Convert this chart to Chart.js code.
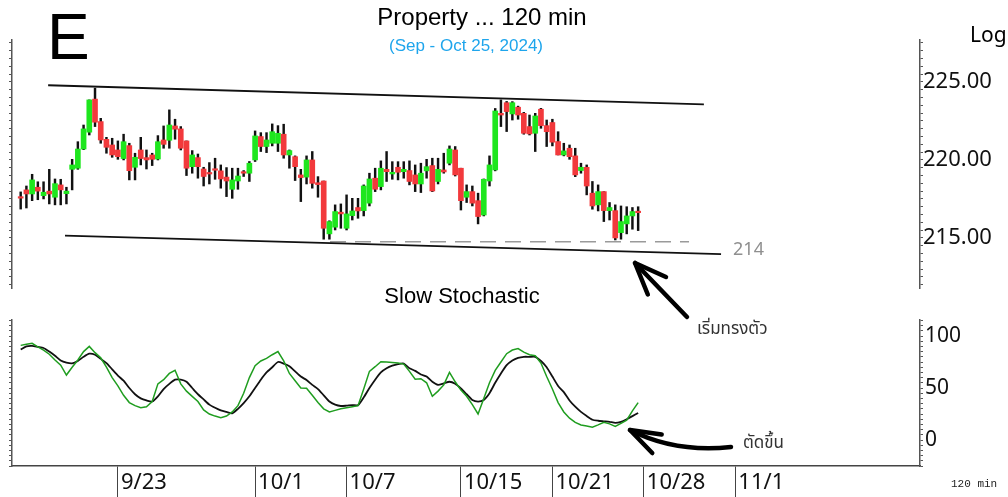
<!DOCTYPE html>
<html>
<head>
<meta charset="utf-8">
<script src="https://cdn.jsdelivr.net/npm/chart.js@4.4.1/dist/chart.umd.min.js"></script>
<style>
  html, body { margin: 0; padding: 0; background: #fff; }
  #wrap { position: relative; width: 1008px; height: 497px; overflow: hidden; }
  #top { position: absolute; left: 0; top: 0; }
  #bot { position: absolute; left: 0; top: 300px; }
</style>
</head>
<body>
<div id="wrap">
  <canvas id="top" width="1008" height="340"></canvas>
  <canvas id="bot" width="1008" height="197"></canvas>
</div>
<script>
// 120 min bars, Sep 18 - Oct 25 2024 (4 bars a day)
const openP = [217.60, 218.08, 217.82, 218.25, 217.71, 218.00, 217.61, 218.40, 217.84, 219.40,
  219.47, 220.70, 221.78, 223.90, 222.46, 221.32, 220.96, 220.64, 220.09, 220.92,
  219.53, 220.64, 220.15, 220.32, 220.06, 221.28, 221.26, 222.18, 221.99, 221.22,
  219.57, 220.15, 219.42, 219.17, 219.40, 219.30, 218.90, 218.12, 218.65, 219.23,
  219.15, 220.00, 221.50, 220.86, 221.07, 221.07, 221.65, 220.32, 220.21, 219.04,
  218.90, 220.00, 218.54, 218.65, 215.26, 215.69, 216.65, 215.62, 216.43, 216.95,
  216.75, 217.23, 218.83, 218.29, 219.40, 219.10, 219.53, 219.25, 219.32, 219.04,
  218.46, 219.30, 219.64, 218.62, 219.36, 219.79, 220.64, 219.47, 217.61, 217.97,
  217.39, 216.47, 218.65, 219.36, 222.99, 223.67, 222.95, 223.38, 222.99, 222.14,
  221.71, 223.25, 222.20, 222.40, 221.18, 220.32, 220.75, 220.26, 219.32, 219.53,
  217.87, 217.12, 217.97, 216.75, 216.75, 215.34, 215.90, 216.41, 216.69];
const highP = [217.95, 218.33, 219.08, 218.60, 218.60, 219.40, 218.78, 218.76, 218.25, 220.04,
  221.17, 222.24, 223.85, 224.60, 222.67, 221.45, 221.39, 221.22, 221.65, 221.07,
  220.43, 221.45, 220.64, 220.43, 221.56, 222.18, 223.21, 222.61, 222.14, 221.22,
  220.60, 220.38, 219.53, 219.83, 220.11, 219.68, 219.51, 219.47, 219.47, 219.32,
  219.90, 221.86, 221.75, 221.75, 222.31, 222.20, 222.29, 220.64, 220.26, 219.40,
  220.26, 220.54, 218.93, 218.65, 216.10, 217.12, 217.18, 217.76, 217.54, 217.54,
  218.40, 219.15, 219.47, 219.94, 220.54, 219.89, 219.89, 219.89, 219.94, 219.68,
  219.79, 220.04, 220.11, 220.11, 220.43, 220.90, 220.86, 219.47, 218.40, 218.33,
  217.87, 218.78, 220.26, 223.30, 223.85, 223.75, 223.74, 223.45, 223.05, 222.88,
  222.99, 223.31, 222.56, 222.61, 221.81, 221.07, 220.96, 220.75, 219.79, 219.68,
  218.62, 218.40, 217.97, 217.27, 217.12, 217.05, 217.00, 216.95, 217.00];
const lowP = [216.85, 216.92, 217.39, 217.45, 217.50, 217.18, 217.12, 217.12, 217.18, 218.08,
  219.40, 220.66, 221.60, 222.14, 221.07, 220.43, 220.17, 220.04, 220.00, 218.72,
  218.72, 219.68, 219.42, 219.64, 220.00, 220.75, 220.75, 221.33, 220.64, 219.00,
  219.15, 218.83, 218.33, 218.46, 218.76, 218.19, 217.65, 217.54, 218.12, 218.94,
  218.62, 219.90, 220.54, 220.47, 220.90, 220.54, 220.11, 219.47, 218.68, 217.33,
  218.46, 218.19, 217.61, 214.92, 214.92, 215.51, 215.62, 215.51, 216.15, 216.26,
  216.41, 217.05, 217.97, 218.08, 218.62, 218.76, 218.72, 218.83, 218.40, 217.97,
  217.91, 218.83, 217.97, 218.46, 219.15, 219.68, 218.97, 216.79, 217.27, 217.05,
  215.90, 216.41, 218.33, 219.30, 222.14, 221.82, 222.56, 222.61, 221.65, 221.60,
  220.54, 222.03, 220.86, 220.90, 220.32, 220.26, 220.04, 218.93, 219.15, 217.76,
  216.84, 216.73, 216.05, 216.15, 214.87, 214.92, 215.26, 215.56, 215.47];
const closeP = [217.55, 217.82, 218.72, 218.00, 217.93, 217.82, 218.48, 218.08, 218.00, 219.68,
  220.70, 221.99, 223.85, 222.42, 221.28, 220.81, 220.32, 220.21, 221.17, 219.31,
  220.17, 220.09, 220.00, 220.04, 221.17, 221.00, 222.24, 221.97, 220.75, 219.47,
  220.32, 219.57, 218.94, 219.10, 219.34, 218.78, 218.65, 218.72, 218.97, 219.15,
  219.79, 221.54, 220.86, 221.28, 221.81, 221.71, 220.32, 220.60, 219.57, 218.87,
  220.00, 218.50, 218.42, 215.62, 216.05, 216.69, 216.54, 216.54, 216.73, 216.73,
  218.33, 218.78, 218.12, 219.47, 219.25, 219.21, 219.21, 219.40, 218.62, 218.46,
  219.15, 219.57, 218.01, 219.40, 219.23, 220.70, 219.04, 217.39, 217.97, 217.23,
  216.37, 218.76, 219.68, 223.14, 222.88, 223.10, 223.67, 222.88, 221.71, 221.67,
  222.82, 222.20, 221.81, 221.14, 220.32, 220.58, 220.21, 219.04, 219.53, 218.33,
  217.05, 217.97, 216.75, 216.95, 215.00, 216.05, 216.41, 216.69, 216.62];

// slow stochastic %K (green) and %D (black)
const stochK = [91, 92, 93, 89.5, 86.5, 82.5, 77, 72, 62.5, 70,
  77, 85, 90, 84, 79, 70, 60, 52, 43, 36,
  33, 31, 32, 37, 54, 58, 64, 67, 54, 47,
  42, 37, 29, 25, 23, 21.5, 23, 27, 33, 45,
  60, 71.5, 76, 78.5, 82, 85, 76, 64, 57, 50,
  49.7, 43, 36, 30, 27, 28.5, 30, 31, 32, 33,
  49, 66, 70.5, 75.3, 75, 74.5, 74, 73, 66, 58.5,
  59, 55, 42, 47, 53, 65, 56, 48, 42, 34,
  25, 40, 55, 67, 75, 83, 86.5, 88, 84.5, 82,
  81, 74, 61, 49, 36, 27, 21, 17, 14.5, 13.5,
  12.3, 14.5, 17, 15.5, 13, 16, 19, 28, 36];
const stochD = [87, 90, 90.5, 89.5, 88.5, 85, 81, 76.5, 74.4, 73.7,
  76, 80, 83, 82, 78, 74, 68, 62, 57, 50,
  44, 40, 38, 37, 42, 49, 54, 58, 58, 56,
  50, 44, 39, 34, 31, 28.5, 27, 25.7, 30, 35.5,
  42, 50, 58, 65, 70, 75, 73.5, 71, 66, 61,
  57.7, 53, 49, 43, 37, 34, 32.7, 33, 33.5, 33.5,
  41, 50, 58, 65, 69, 71.5, 73, 73.5, 69, 66.5,
  63, 61, 56, 53, 54.5, 56, 54, 49.5, 44, 38.5,
  37, 38.5, 45, 55, 64, 72, 76.5, 79, 80, 80,
  80, 76, 70, 61, 52, 46, 38, 32, 27, 23,
  19.5, 18.5, 18, 17.5, 16.5, 17.5, 20, 23, 26];

// date separators: bar index where each day starts
const dateIdx = [17, 41, 57, 77, 93, 109, 125];
const dateLbl = ['9/23', '10/1', '10/7', '10/15', '10/21', '10/28', '11/1'];

// drawn trend lines [bar index, price]
const upperTrend = [[4.8, 224.79], [119.5, 223.56]];
const lowerTrend = [[7.75, 215.15], [122.5, 213.96]];
const supportLine = [[54.1, 214.76], [116.9, 214.76]];

const X_MIN = -1.52, X_MAX = 157.3;
const GREEN = '#1ee61e', RED = '#f2393c';
const AX = '#555';
const barIdx = openP.map((_, i) => i);
const pts = arr => arr.map(([x, y]) => ({ x, y }));

Chart.defaults.font.family = '"Noto Sans", "Open Sans", sans-serif';
Chart.defaults.color = '#111';

function arrowHead(ctx, tx, ty, fx, fy, len, spread) {
  const a = Math.atan2(fy - ty, fx - tx);
  ctx.beginPath();
  ctx.moveTo(tx + len * Math.cos(a + spread), ty + len * Math.sin(a + spread));
  ctx.lineTo(tx, ty);
  ctx.lineTo(tx + len * Math.cos(a - spread), ty + len * Math.sin(a - spread));
  ctx.stroke();
}

const topDecor = {
  id: 'topDecor',
  afterDraw(chart) {
    const ctx = chart.ctx;
    const xs = chart.scales.x, ys = chart.scales.y;
    ctx.save();
    ctx.fillStyle = '#000';
    ctx.textBaseline = 'alphabetic';
    ctx.font = '64px "Liberation Sans", Arial, sans-serif';
    ctx.fillText('E', 47, 59);

    ctx.textAlign = 'center';
    ctx.textBaseline = 'middle';
    ctx.font = '24px "Liberation Sans", Arial, sans-serif';
    ctx.fillText('Property ... 120 min', 482, 18);
    ctx.fillStyle = '#1ea5ec';
    ctx.font = '17px "Liberation Sans", Arial, sans-serif';
    ctx.fillText('(Sep - Oct 25, 2024)', 466, 46);
    ctx.fillStyle = '#000';
    ctx.font = '22px "Liberation Sans", Arial, sans-serif';
    ctx.fillText('Slow Stochastic', 462, 297);

    ctx.textAlign = 'left';
    ctx.font = '21px "Noto Sans", sans-serif';
    ctx.fillText('Log', 970, 36);

    ctx.fillStyle = '#8f8f8f';
    ctx.font = '18px "Noto Sans", sans-serif';
    ctx.fillText('214', xs.getPixelForValue(124.6), ys.getPixelForValue(214.25));

    // hand drawn arrow to the lower trend line
    ctx.strokeStyle = '#000';
    ctx.lineWidth = 4.5;
    ctx.lineCap = 'round';
    ctx.lineJoin = 'round';
    ctx.beginPath();
    ctx.moveTo(687, 317);
    ctx.lineTo(635, 263);
    ctx.stroke();
    arrowHead(ctx, 635, 263, 687, 317, 34, 0.38);

    ctx.fillStyle = '#333';
    ctx.font = '17px "Noto Sans Thai", "Loma", "Garuda", "Noto Sans", sans-serif';
    ctx.fillText('เริ่มทรงตัว', 697, 331);
    ctx.restore();
  }
};

const botDecor = {
  id: 'botDecor',
  afterDraw(chart) {
    const ctx = chart.ctx;
    const off = 300;
    ctx.save();
    ctx.strokeStyle = '#000';
    ctx.lineWidth = 4.5;
    ctx.lineCap = 'round';
    ctx.lineJoin = 'round';
    ctx.beginPath();
    ctx.moveTo(731, 447 - off);
    ctx.quadraticCurveTo(675, 453 - off, 630, 430 - off);
    ctx.stroke();
    arrowHead(ctx, 630, 430 - off, 675, 453 - off, 32, 0.33);

    ctx.fillStyle = '#333';
    ctx.textBaseline = 'middle';
    ctx.font = '17px "Noto Sans Thai", "Loma", "Garuda", "Noto Sans", sans-serif';
    ctx.fillText('ตัดขึ้น', 743, 445 - off);

    ctx.fillStyle = '#222';
    ctx.font = '11px "Liberation Mono", monospace';
    ctx.fillText('120 min', 951, 484 - off);
    ctx.restore();
  }
};

new Chart(document.getElementById('top'), {
  type: 'bar',
  data: {
    datasets: [
      {
        label: 'body',
        data: barIdx.map(i => ({ x: i, y: [openP[i], closeP[i]] })),
        backgroundColor: c => closeP[c.dataIndex] >= openP[c.dataIndex] ? GREEN : RED,
        barThickness: 5,
        minBarLength: 1.5,
        grouped: false,
        yAxisID: 'y'
      },
      {
        label: 'wick',
        data: barIdx.map(i => ({ x: i, y: [lowP[i], highP[i]] })),
        backgroundColor: '#111',
        barThickness: 1.8,
        grouped: false,
        yAxisID: 'y'
      },
      { type: 'line', label: 'upper', data: pts(upperTrend), borderColor: '#111', borderWidth: 1.8, pointRadius: 0, yAxisID: 'y' },
      { type: 'line', label: 'lower', data: pts(lowerTrend), borderColor: '#111', borderWidth: 1.8, pointRadius: 0, yAxisID: 'y' },
      { type: 'line', label: 'support', data: pts(supportLine), borderColor: '#9a9a9a', borderWidth: 1.6, borderDash: [16, 9], pointRadius: 0, yAxisID: 'y' }
    ]
  },
  options: {
    responsive: false,
    animation: false,
    layout: { padding: { top: 40, bottom: 52, left: 0, right: 0 } },
    plugins: { legend: { display: false }, tooltip: { enabled: false } },
    scales: {
      x: { type: 'linear', min: X_MIN, max: X_MAX, display: false, offset: false },
      y: {
        position: 'right', min: 211.79, max: 227.69,
        ticks: {
          stepSize: 0.5, autoSkip: false, includeBounds: false, padding: 0,
          font: { size: 22 }, color: '#111',
          callback: v => v % 5 === 0 ? v.toFixed(2) : ''
        },
        grid: { drawOnChartArea: false, tickLength: 3, color: AX },
        border: { color: AX, width: 1.5 },
        afterFit: s => { s.width = 88; }
      },
      yl: {
        position: 'left', min: 211.79, max: 227.69,
        ticks: { display: false, stepSize: 0.5, includeBounds: false },
        grid: { drawOnChartArea: false, tickLength: 3, color: AX },
        border: { color: AX, width: 1.5 },
        afterFit: s => { s.width = 12; }
      }
    }
  },
  plugins: [topDecor]
});

new Chart(document.getElementById('bot'), {
  type: 'line',
  data: {
    datasets: [
      { label: '%K', data: barIdx.map(i => ({ x: i, y: stochK[i] })), borderColor: '#1f9d1f', borderWidth: 1.5, pointRadius: 0, tension: 0 },
      { label: '%D', data: barIdx.map(i => ({ x: i, y: stochD[i] })), borderColor: '#111', borderWidth: 1.8, pointRadius: 0, tension: 0.2 }
    ]
  },
  options: {
    responsive: false,
    animation: false,
    layout: { padding: { top: 20, bottom: 0, left: 0, right: 0 } },
    plugins: { legend: { display: false }, tooltip: { enabled: false } },
    scales: {
      x: {
        type: 'linear', min: X_MIN, max: X_MAX, offset: false,
        afterBuildTicks: s => { s.ticks = dateIdx.map(v => ({ value: v })); },
        ticks: {
          autoSkip: false, maxRotation: 0, align: 'start', labelOffset: 3, padding: -27,
          font: { size: 22 }, color: '#111',
          callback: (v, i) => dateLbl[i]
        },
        grid: { drawOnChartArea: false, tickLength: 31, color: '#444' },
        border: { color: '#444', width: 1.5 },
        afterFit: s => { s.height = 31; }
      },
      y: {
        position: 'right', min: -25, max: 115.4,
        ticks: {
          stepSize: 5, autoSkip: false, includeBounds: false, padding: 2,
          font: { size: 21 }, color: '#111',
          callback: v => v % 50 === 0 ? String(v) : ''
        },
        grid: { drawOnChartArea: false, tickLength: 3, color: AX },
        border: { color: AX, width: 1.5 },
        afterFit: s => { s.width = 88; }
      },
      yl: {
        position: 'left', min: -25, max: 115.4,
        ticks: { display: false, stepSize: 5, includeBounds: false },
        grid: { drawOnChartArea: false, tickLength: 3, color: AX },
        border: { color: AX, width: 1.5 },
        afterFit: s => { s.width = 12; }
      }
    }
  },
  plugins: [botDecor]
});
</script>
</body>
</html>
